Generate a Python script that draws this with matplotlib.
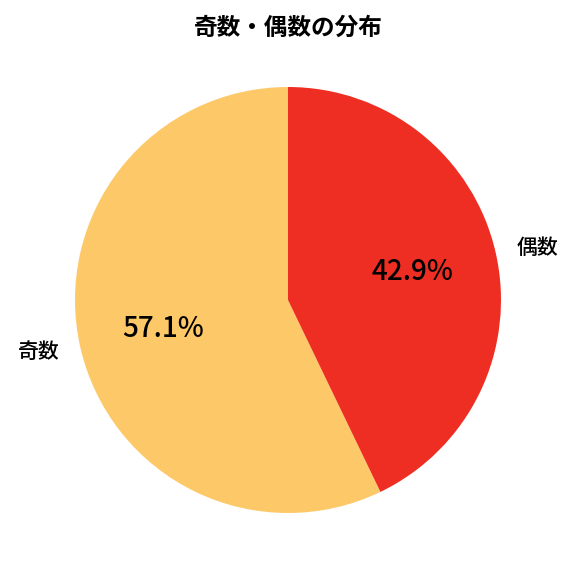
import matplotlib
matplotlib.use('Agg')
import matplotlib.pyplot as plt

plt.rcParams['font.family'] = ['Noto Sans CJK JP', 'DejaVu Sans']

labels = ['奇数', '偶数']
counts = [4, 3]
colors = ['#FDC968', '#EE2E22']

fig = plt.figure(figsize=(5.76, 5.76), dpi=100)
# pie radius ~213px around (288, 300); pie() sets limits to +-1.25
ax = fig.add_axes([21.75 / 576, 9.75 / 576, 532.5 / 576, 532.5 / 576])
wedges, texts, autotexts = ax.pie(counts, labels=labels, colors=colors,
                                  autopct='%1.1f%%', startangle=90,
                                  textprops={'fontsize': 15, 'fontweight': 'medium'})
for t in autotexts:
    t.set_fontsize(20)
fig.text(0.5, 1 - 28 / 576, '奇数・偶数の分布', fontsize=17, fontweight='bold',
         ha='center', va='center')
plt.savefig('out.png')
plt.close()
